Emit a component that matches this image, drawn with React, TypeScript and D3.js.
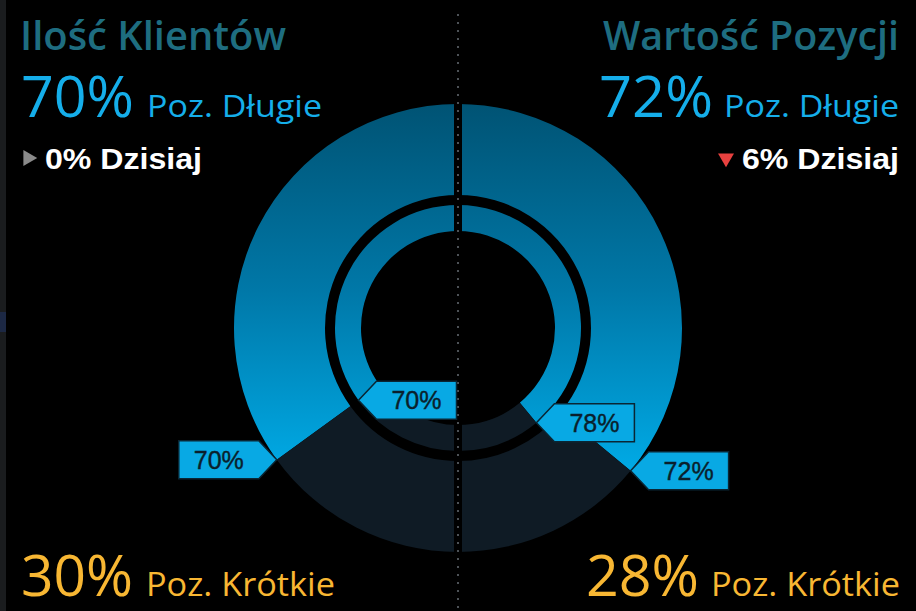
import * as d3 from 'd3';

const panels = ['Ilość Klientów', 'Wartość Pozycji'];
const longShare = [70, 72];
const shortShare = [30, 28];
const innerShare = [70, 78];
const todayChange = [0, -6];
const longLabel = 'Poz. Długie';
const shortLabel = 'Poz. Krótkie';
const todayLabel = 'Dzisiaj';

const W = 916;
const H = 611;
const cx = 458;
const cy = 328;
const outer = { r0: 133, r1: 224 };
const inner = { r0: 97, r1: 123 };

const BLUE = 'url(#blueGrad)';
const DARK = '#0f1b25';
const TAG = '#08a9e4';

// half circle, measured from the top
const angle = d3.scaleLinear().domain([0, 100]).range([0, Math.PI]);
const arc = d3.arc<any>();

function tagPath(tx: number, ty: number, dir: number, len = 98) {
  const p = d3.path();
  p.moveTo(tx, ty);
  p.lineTo(tx + dir * 18, ty - 19);
  p.lineTo(tx + dir * len, ty - 19);
  p.lineTo(tx + dir * len, ty + 19);
  p.lineTo(tx + dir * 18, ty + 19);
  p.closePath();
  return p.toString();
}

function Tag({ pct, r, side, dir }: { pct: number; r: number; side: number; dir: number }) {
  const [x, y] = d3.pointRadial(side * angle(pct), r);
  const tx = cx + x;
  const ty = cy + y;
  return (
    <g>
      <path d={tagPath(tx, ty, dir)} fill={TAG} stroke="#0a2634" strokeWidth={1.5} />
      <text x={tx + dir * 58} y={ty + 9} textAnchor="middle" fontFamily="Liberation Sans, Arial, sans-serif"
        fontSize={25} fill="#0a1f2c" stroke="#0a1f2c" strokeWidth={0.4}>{pct}%</text>
    </g>
  );
}

function Half({ i }: { i: number }) {
  const side = i === 0 ? -1 : 1;
  const rings = [
    { ...outer, pct: longShare[i] },
    { ...inner, pct: innerShare[i] },
  ];
  return (
    <g transform={`translate(${cx},${cy})`}>
      {rings.map((rg, k) => (
        <g key={k}>
          <path d={arc({ innerRadius: rg.r0, outerRadius: rg.r1, startAngle: 0, endAngle: side * angle(rg.pct) })!} fill={BLUE} />
          <path d={arc({ innerRadius: rg.r0, outerRadius: rg.r1, startAngle: side * angle(rg.pct), endAngle: side * angle(100) })!} fill={DARK} />
        </g>
      ))}
    </g>
  );
}

const tri = d3.symbol(d3.symbolTriangle, 110)()!;

export default function App() {
  const fontUI = '"Open Sans", "Noto Sans", sans-serif';
  return (
    <svg width={W} height={H} style={{ position: 'absolute', left: 0, top: 0, background: '#000' }}>
      <defs>
        {/* coordinates are local to the ring group (centred on cx, cy) */}
        <linearGradient id="blueGrad" gradientUnits="userSpaceOnUse" x1={0} y1={-outer.r1} x2={0} y2={150}>
          <stop offset="0" stopColor="#005374" />
          <stop offset="0.5" stopColor="#0078a8" />
          <stop offset="1" stopColor="#00ace8" />
        </linearGradient>
      </defs>
      <rect width={W} height={H} fill="#000" />
      <rect x={0} y={0} width={6} height={H} fill="#1a1c1e" />
      <rect x={0} y={312} width={6} height={20} fill="#1c2844" />

      <Half i={0} />
      <Half i={1} />
      <rect x={cx - 4} y={0} width={8} height={H} fill="#000" />
      <line x1={cx} x2={cx} y1={14} y2={H} stroke="#4d5257" strokeWidth={2} strokeDasharray="2,6" />

      <Tag pct={longShare[0]} r={outer.r1} side={-1} dir={-1} />
      <Tag pct={innerShare[0]} r={inner.r1} side={-1} dir={1} />
      <Tag pct={innerShare[1]} r={inner.r1} side={1} dir={1} />
      <Tag pct={longShare[1]} r={outer.r1} side={1} dir={1} />

      {/* left panel texts */}
      <text x={20} y={50} fontFamily={fontUI} fontWeight={600} fontSize={40} fill="#1e6d80" textLength={266} lengthAdjust="spacingAndGlyphs">{panels[0]}</text>
      <text x={21} y={117} fontFamily={fontUI} fontSize={56} fill="#15aeea" textLength={113} lengthAdjust="spacingAndGlyphs">{longShare[0]}%</text>
      <text x={147} y={117} fontFamily={fontUI} fontSize={31} fill="#15aeea" textLength={175} lengthAdjust="spacingAndGlyphs">{longLabel}</text>
      <path d={tri} transform={`translate(28,158) rotate(${todayChange[0] < 0 ? 180 : todayChange[0] > 0 ? 0 : 90})`} fill="#8a8a8a" />
      <text x={45} y={169} fontFamily="Liberation Sans, Arial, sans-serif" fontWeight="bold" fontSize={30} fill="#fff" textLength={157} lengthAdjust="spacingAndGlyphs">{Math.abs(todayChange[0])}% {todayLabel}</text>
      <text x={21} y={596} fontFamily={fontUI} fontSize={56} fill="#f8b733" textLength={112} lengthAdjust="spacingAndGlyphs">{shortShare[0]}%</text>
      <text x={146} y={596} fontFamily={fontUI} fontSize={32} fill="#f8b733" textLength={189} lengthAdjust="spacingAndGlyphs">{shortLabel}</text>

      {/* right panel texts */}
      <text x={603} y={50} fontFamily={fontUI} fontWeight={600} fontSize={40} fill="#1e6d80" textLength={296} lengthAdjust="spacingAndGlyphs">{panels[1]}</text>
      <text x={599} y={117} fontFamily={fontUI} fontSize={56} fill="#15aeea" textLength={114} lengthAdjust="spacingAndGlyphs">{longShare[1]}%</text>
      <text x={724} y={117} fontFamily={fontUI} fontSize={31} fill="#15aeea" textLength={175} lengthAdjust="spacingAndGlyphs">{longLabel}</text>
      <path d={tri} transform={`translate(726,158) rotate(${todayChange[1] < 0 ? 180 : todayChange[1] > 0 ? 0 : 90})`} fill="#e8413f" />
      <text x={742} y={169} fontFamily="Liberation Sans, Arial, sans-serif" fontWeight="bold" fontSize={30} fill="#fff" textLength={157} lengthAdjust="spacingAndGlyphs">{Math.abs(todayChange[1])}% {todayLabel}</text>
      <text x={586} y={596} fontFamily={fontUI} fontSize={56} fill="#f8b733" textLength={113} lengthAdjust="spacingAndGlyphs">{shortShare[1]}%</text>
      <text x={711} y={596} fontFamily={fontUI} fontSize={32} fill="#f8b733" textLength={189} lengthAdjust="spacingAndGlyphs">{shortLabel}</text>
    </svg>
  );
}
